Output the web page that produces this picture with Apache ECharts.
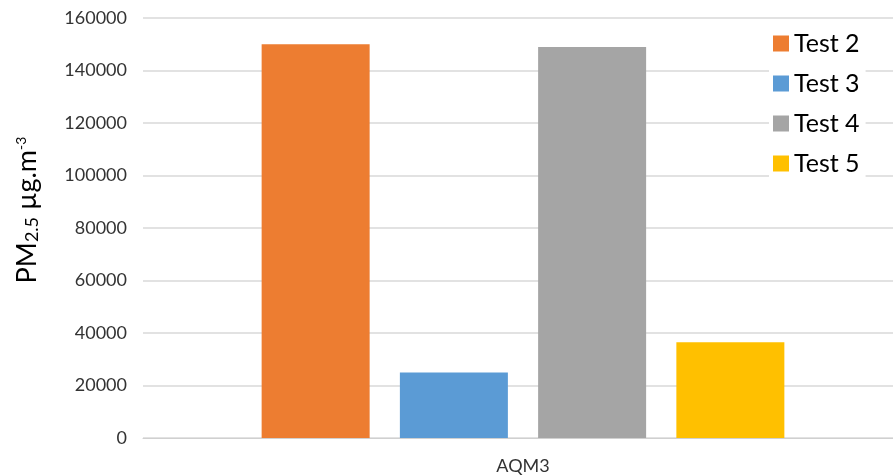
<!DOCTYPE html>
<html><head><meta charset="utf-8">
<script src="https://cdn.jsdelivr.net/npm/echarts@6/dist/echarts.min.js"></script>
<style>html,body{margin:0;padding:0;background:#fff;overflow:hidden}#c{width:903px;height:476px}</style>
</head><body><div id="c"></div>
<script>
const categories = ['AQM3'];
const seriesNames = ['Test 2', 'Test 3', 'Test 4', 'Test 5'];
const seriesValues = [[150000], [25000], [149000], [36500]];
const colors = ['#ED7D31', '#5B9BD5', '#A5A5A5', '#FFC000'];
const yTicks = { min: 0, max: 160000, interval: 20000 };

const chart = echarts.init(document.getElementById('c'));
const font = 'Lato, "Open Sans", sans-serif';
chart.setOption({
  animation: false,
  textStyle: { fontFamily: font },
  grid: { left: 143, top: 18, right: 0, height: 420 },
  legend: {
    orient: 'vertical', left: 769, top: 27,
    itemWidth: 16, itemHeight: 16, itemGap: 15,
    backgroundColor: '#fff', padding: [4, 6, 4, 4],
    icon: 'rect',
    textStyle: { fontSize: 25, color: '#000', fontFamily: font },
    data: seriesNames
  },
  xAxis: {
    type: 'category', data: categories,
    axisLine: { lineStyle: { color: '#d0d0d0', width: 1 } },
    axisTick: { show: false },
    axisLabel: { fontSize: 18, color: '#333', margin: 19, fontFamily: font }
  },
  yAxis: {
    type: 'value', min: yTicks.min, max: yTicks.max, interval: yTicks.interval,
    name: '{a|PM}{s|2.5}{a| µg.m}{p|-3}',
    nameLocation: 'middle', nameGap: 102, nameRotate: 90,
    nameTextStyle: {
      padding: [0, 0, 0, 36],
      rich: {
        a: { fontSize: 27, color: '#000', fontFamily: font },
        s: { fontSize: 18, color: '#000', fontFamily: font, verticalAlign: 'bottom', padding: [9, 0, 0, 0] },
        p: { fontSize: 14, color: '#000', fontFamily: font, verticalAlign: 'top', padding: [0, 0, 12, 0] }
      }
    },
    axisLine: { show: false },
    axisTick: { show: false },
    axisLabel: { fontSize: 18, color: '#333', margin: 16, fontFamily: font, formatter: v => String(v) },
    splitLine: { lineStyle: { color: '#d9d9d9', width: 1.5 } }
  },
  series: seriesNames.map((n, i) => ({
    name: n, type: 'bar', data: seriesValues[i],
    barWidth: 108, barGap: '28%',
    itemStyle: { color: colors[i] }
  }))
});
</script></body></html>
